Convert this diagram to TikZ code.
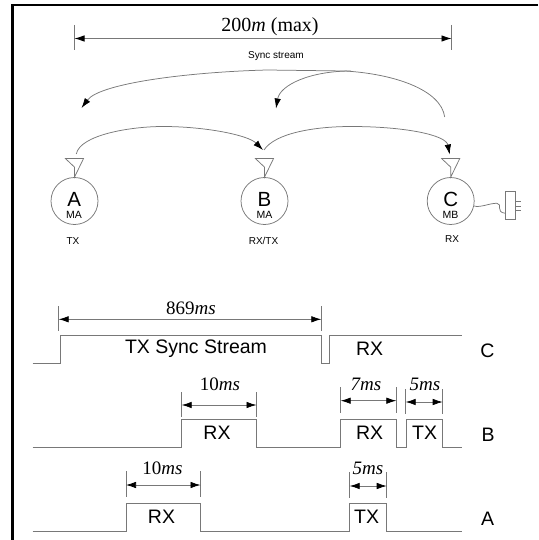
\documentclass[tikz,border=0pt]{standalone}
\usepackage{fontspec}
\setmainfont{Liberation Sans}
\newfontfamily\serifdim{Liberation Serif}
\usetikzlibrary{arrows.meta}
\definecolor{wire}{gray}{0.47}
\tikzset{
  x=1pt,y=-1pt,
  wireline/.style={draw=wire,line width=0.9pt},
  frameline/.style={draw=black,line width=2.2pt},
  thin wire/.style={draw=wire,line width=0.75pt},
  tip/.style={-{Latex[length=10pt,width=6.5pt,black]}},
  twotip/.style={{Latex[length=10pt,width=6.5pt,black]}-{Latex[length=10pt,width=6.5pt,black]}},
  station/.style={circle,draw=wire,line width=0.75pt,minimum size=47pt,inner sep=0pt},
  big/.style={font=\fontsize{19.5pt}{20pt}\selectfont,inner sep=0pt,text=black},
  letter/.style={font=\fontsize{20.5pt}{21pt}\selectfont,inner sep=0pt},
  sub/.style={font=\fontsize{10.5pt}{11pt}\selectfont,inner sep=0pt},
  small/.style={font=\fontsize{10pt}{11pt}\selectfont,inner sep=0pt},
  dimtext/.style={font=\serifdim\fontsize{19pt}{20pt}\selectfont,inner sep=0pt}
}
\newcommand{\dimspan}[6]{% name, x1, x2, y, tick top, tick bottom
  \coordinate (#1a) at (#2,#4);
  \coordinate (#1b) at (#3,#4);
  \coordinate (#1at) at (#2,#5);
  \coordinate (#1ab) at (#2,#6);
  \coordinate (#1bt) at (#3,#5);
  \coordinate (#1bb) at (#3,#6);
  \draw[thin wire] (#1at) -- (#1ab);
  \draw[thin wire] (#1bt) -- (#1bb);
  \draw[thin wire,twotip] (#1a) -- (#1b);
}
\newcommand{\antenna}[2]{% name, station
  \coordinate (#1s) at ([yshift=10pt]#2.north);
  \coordinate (#1l) at ([xshift=-9pt,yshift=18.5pt]#2.north);
  \coordinate (#1r) at ([xshift=9pt,yshift=18.5pt]#2.north);
  \draw[thin wire] (#2.north) -- (#1s) -- (#1l) -- (#1r) -- cycle;
}
\begin{document}
\begin{tikzpicture}
\useasboundingbox (0,0) rectangle (538,540);
% frame
\coordinate (fr) at (538,5);
\coordinate (fc) at (12.5,5);
\coordinate (fb) at (12.5,540);
\draw[frameline] (fr) -- (fc) -- (fb);
% stations
\node[station] (A) at (74.5,201) {};
\node[station] (B) at (264.5,201) {};
\node[station] (C) at (450.7,201) {};
\node[letter] (Al) at (74.3,199.3) {A};
\node[letter] (Bl) at (264.5,199.3) {B};
\node[letter] (Cl) at (450.7,199.3) {C};
\node[sub] (Am) at (74,214.6) {MA};
\node[sub] (Bm) at (264.5,214.6) {MA};
\node[sub] (Cm) at (450.5,215.3) {MB};
\node[small] (At) at (73,241.3) {TX};
\node[small] (Bt) at (263.5,241.3) {RX/TX};
\node[small] (Ct) at (452,238.7) {RX};
\antenna{ant1}{A}
\antenna{ant2}{B}
\antenna{ant3}{C}
% top dimension
\dimspan{top}{74.5}{451.5}{38.5}{25}{50}
\node[dimtext,font=\serifdim\fontsize{20pt}{21pt}\selectfont] (toplabel) at (270,27) {200\textit{m} (max)};
\node[small] (sync) at (276,56) {Sync stream};
% sync curves
\coordinate (c1) at (444.7,117);
\coordinate (c2) at (345,71);
\coordinate (c3) at (267,70);
\coordinate (c4) at (81.5,108);
\coordinate (c5) at (351,71);
\coordinate (c6) at (276,108.5);
\draw[thin wire,tip] (c1) .. controls (441,90) and (395,74) .. (c2) -- (c3) .. controls (190,72) and (100,83) .. (c4);
\draw[thin wire,tip] (c5) .. controls (310,71) and (280,85) .. (c6);
\coordinate (d1) at (76.3,154);
\coordinate (d2) at (163,126.5);
\coordinate (d3) at (263,150);
\coordinate (d4) at (264,150);
\coordinate (d5) at (351,126.5);
\coordinate (d6) at (449.7,154.5);
\draw[thin wire,tip] (d1) .. controls (80,135) and (130,126.5) .. (d2) .. controls (205,126.5) and (248,135) .. (d3);
\draw[thin wire,tip] (d4) .. controls (275,133) and (315,126.5) .. (d5) .. controls (405,126.5) and (446,135) .. (d6);
% plug
\node[draw=wire,line width=1pt,minimum width=9.5pt,minimum height=28pt,inner sep=0pt] (plug) at (510.3,205.8) {};
\coordinate (p1) at (515.3,201);
\coordinate (p1e) at (520.5,201);
\coordinate (p2) at (515.3,206);
\coordinate (p2e) at (520.5,206);
\coordinate (p3) at (515.3,210.7);
\coordinate (p3e) at (520.5,210.7);
\draw[thin wire] (p1) -- (p1e) (p2) -- (p2e) (p3) -- (p3e);
\coordinate (cordend) at (505.3,213.3);
\draw[thin wire] (C.-12) .. controls (480,208) and (490,203) .. (497,203.3) .. controls (503,204) and (495,212) .. (cordend);
% waveforms
\draw[wireline] (32.5,363.5) -- (60.5,363.5) -- (60.5,335.7) -- (321.3,335.7) -- (321.3,363.5) -- (329.7,363.5) -- (329.7,335.7) -- (462,335.7);
\draw[wireline] (32.5,447.3) -- (181.7,447.3) -- (181.7,419.3) -- (256.5,419.3) -- (256.5,447.3) -- (340.7,447.3) -- (340.7,419.3) -- (396.3,419.3) -- (396.3,447.3) -- (406.7,447.3) -- (406.7,419.3) -- (442.7,419.3) -- (442.7,447.3) -- (462,447.3);
\draw[wireline] (32.5,531.3) -- (126,531.3) -- (126,503.3) -- (200.5,503.3) -- (200.5,531.3) -- (349.7,531.3) -- (349.7,503.3) -- (386.7,503.3) -- (386.7,531.3) -- (462,531.3);
% dimensions
\dimspan{n}{58.7}{321.3}{319.3}{306}{331}
\node[dimtext] (nl) at (191,308) {869\textit{ms}};
\dimspan{tb}{181.7}{256.5}{405}{392}{416.5}
\node[dimtext] (tbl) at (220,384) {10\textit{ms}};
\dimspan{ta}{126}{200.5}{485}{471}{497}
\node[dimtext] (tal) at (162.5,468) {10\textit{ms}};
\dimspan{sb}{340.7}{396.3}{400.7}{387.3}{413}
\node[dimtext] (sbl) at (366,384) {\textit{7ms}};
\dimspan{fb2}{405.7}{442.7}{402}{389}{414}
\node[dimtext] (fbl) at (425,384) {\textit{5ms}};
\dimspan{fa}{349.7}{386.7}{486}{472}{498}
\node[dimtext] (fal) at (368,468) {\textit{5ms}};
% labels
\node[big] (w1) at (196,349) {TX Sync Stream};
\node[big] (w2) at (369.7,349) {RX};
\node[big] (w3) at (217,433) {RX};
\node[big] (w4) at (369.7,433) {RX};
\node[big] (w5) at (424.7,433) {TX};
\node[big] (w6) at (161.5,516.7) {RX};
\node[big] (w7) at (366.7,516.7) {TX};
\node[big] (rC) at (487.5,350.7) {C};
\node[big] (rB) at (488,435) {B};
\node[big] (rA) at (487.5,519) {A};
\end{tikzpicture}
\end{document}
